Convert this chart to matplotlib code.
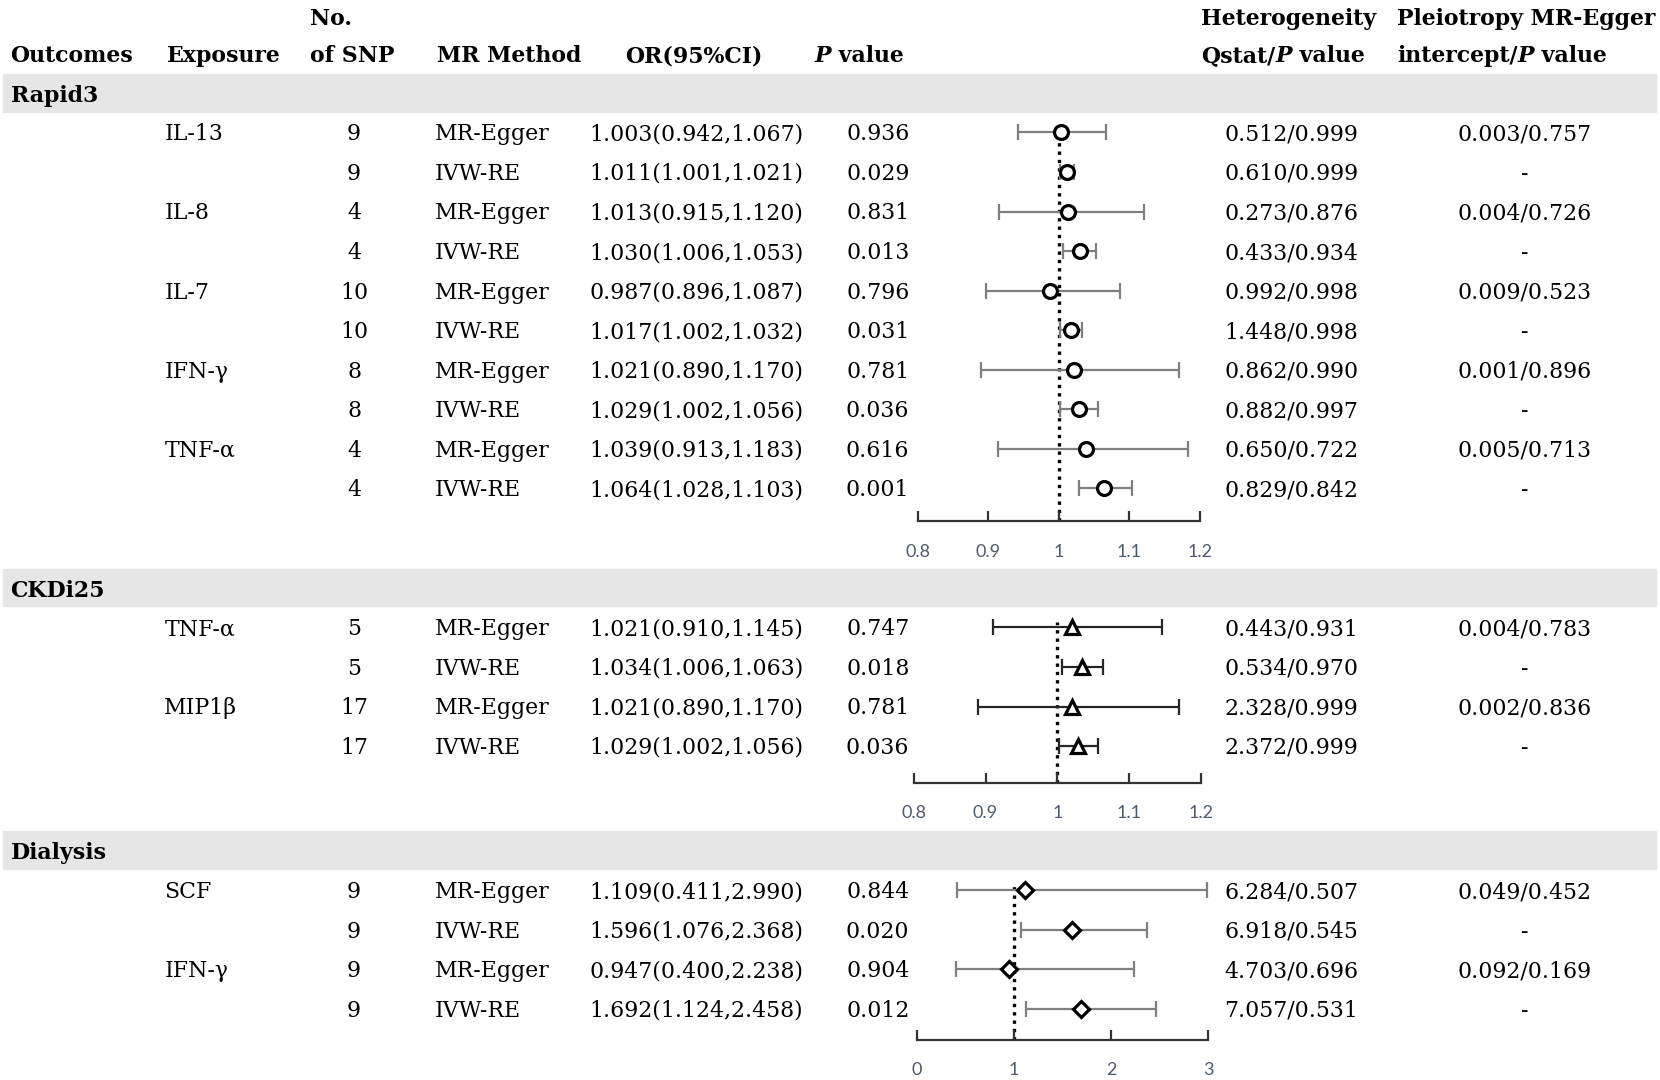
import matplotlib
matplotlib.use("Agg")
import matplotlib.pyplot as plt

plt.rcParams["font.family"] = ["DejaVu Serif"]

# ── Data ────────────────────────────────────────────────────────
rapid_exposure = ["IL-13", "", "IL-8", "", "IL-7", "", "IFN-γ", "", "TNF-α", ""]
rapid_nsnp = [9, 9, 4, 4, 10, 10, 8, 8, 4, 4]
rapid_method = ["MR-Egger", "IVW-RE"] * 5
rapid_or = [1.003, 1.011, 1.013, 1.030, 0.987, 1.017, 1.021, 1.029, 1.039, 1.064]
rapid_lo = [0.942, 1.001, 0.915, 1.006, 0.896, 1.002, 0.890, 1.002, 0.913, 1.028]
rapid_hi = [1.067, 1.021, 1.120, 1.053, 1.087, 1.032, 1.170, 1.056, 1.183, 1.103]
rapid_p = ["0.936", "0.029", "0.831", "0.013", "0.796", "0.031", "0.781", "0.036", "0.616", "0.001"]
rapid_het = ["0.512/0.999", "0.610/0.999", "0.273/0.876", "0.433/0.934", "0.992/0.998",
             "1.448/0.998", "0.862/0.990", "0.882/0.997", "0.650/0.722", "0.829/0.842"]
rapid_pleio = ["0.003/0.757", "-", "0.004/0.726", "-", "0.009/0.523", "-",
               "0.001/0.896", "-", "0.005/0.713", "-"]

ckd_exposure = ["TNF-α", "", "MIP1β", ""]
ckd_nsnp = [5, 5, 17, 17]
ckd_method = ["MR-Egger", "IVW-RE"] * 2
ckd_or = [1.021, 1.034, 1.021, 1.029]
ckd_lo = [0.910, 1.006, 0.890, 1.002]
ckd_hi = [1.145, 1.063, 1.170, 1.056]
ckd_p = ["0.747", "0.018", "0.781", "0.036"]
ckd_het = ["0.443/0.931", "0.534/0.970", "2.328/0.999", "2.372/0.999"]
ckd_pleio = ["0.004/0.783", "-", "0.002/0.836", "-"]

dia_exposure = ["SCF", "", "IFN-γ", ""]
dia_nsnp = [9, 9, 9, 9]
dia_method = ["MR-Egger", "IVW-RE"] * 2
dia_or = [1.109, 1.596, 0.947, 1.692]
dia_lo = [0.411, 1.076, 0.400, 1.124]
dia_hi = [2.990, 2.368, 2.238, 2.458]
dia_p = ["0.844", "0.020", "0.904", "0.012"]
dia_het = ["6.284/0.507", "6.918/0.545", "4.703/0.696", "7.057/0.531"]
dia_pleio = ["0.049/0.452", "-", "0.092/0.169", "-"]

rapid_ticks = [0.8, 0.9, 1.0, 1.1, 1.2]
ckd_ticks = [0.8, 0.9, 1.0, 1.1, 1.2]
dia_ticks = [0, 1, 2, 3]

# ── Layout (drawing grid units) ─────────────────────────────────
W, H = 1566, 1019
STEP = 37.3
FS = 15.8          # body text
HFS = 15.8         # header / group labels
BASE = 7.5         # baseline offset below a row centre
TICK_COLOR = "#4f5b6b"
BAND = "#e6e6e6"

fig = plt.figure(figsize=(16.6, 10.8), dpi=100)
fig.patch.set_facecolor("white")
bg = fig.add_axes([0, 0, 1, 1])
bg.set_xlim(0, W)
bg.set_ylim(H, 0)
bg.axis("off")
renderer = fig.canvas.get_renderer()


def rich(x, y, pieces, **kw):
    """Draw consecutive bold text pieces [(text, style)] left-aligned from x."""
    for txt, style in pieces:
        t = bg.text(x, y + BASE, txt, ha="left", va="baseline", fontsize=HFS,
                    fontweight="bold", fontstyle=style, **kw)
        bb = t.get_window_extent(renderer)
        x = bg.transData.inverted().transform((bb.x1, bb.y0))[0]


def cell(x, y, txt, ha="left"):
    bg.text(x, y + BASE, txt, ha=ha, va="baseline", fontsize=FS)


# ── Header ──────────────────────────────────────────────────────
hy1, hy2 = 16, 51
rich(10, hy2, [("Outcomes", "normal")])
rich(157, hy2, [("Exposure", "normal")])
rich(292, hy1, [("No.", "normal")])
rich(292, hy2, [("of SNP", "normal")])
rich(412, hy2, [("MR Method", "normal")])
rich(590, hy2, [("OR(95%CI)", "normal")])
rich(768, hy2, [("P", "italic"), (" value", "normal")])
rich(1133, hy1, [("Heterogeneity", "normal")])
rich(1133, hy2, [("Qstat/", "normal"), ("P", "italic"), (" value", "normal")])
rich(1318, hy1, [("Pleiotropy MR-Egger", "normal")])
rich(1318, hy2, [("intercept/", "normal"), ("P", "italic"), (" value", "normal")])

groups = [
    dict(name="Rapid3", band=(70, 106), row0=125, axis_y=492, x0=866, x1=1132,
         xlim=(0.8, 1.2), ticks=rapid_ticks, marker="o", bar="#7f7f7f",
         exposure=rapid_exposure, nsnp=rapid_nsnp, method=rapid_method,
         or_=rapid_or, lo=rapid_lo, hi=rapid_hi, p=rapid_p,
         het=rapid_het, pleio=rapid_pleio),
    dict(name="CKDi25", band=(537, 572), row0=592, axis_y=739, x0=862, x1=1133,
         xlim=(0.8, 1.2), ticks=ckd_ticks, marker="^", bar="#262626",
         exposure=ckd_exposure, nsnp=ckd_nsnp, method=ckd_method,
         or_=ckd_or, lo=ckd_lo, hi=ckd_hi, p=ckd_p,
         het=ckd_het, pleio=ckd_pleio),
    dict(name="Dialysis", band=(784, 820), row0=840, axis_y=981, x0=865, x1=1140,
         xlim=(0, 3), ticks=dia_ticks, marker="D", bar="#7f7f7f",
         exposure=dia_exposure, nsnp=dia_nsnp, method=dia_method,
         or_=dia_or, lo=dia_lo, hi=dia_hi, p=dia_p,
         het=dia_het, pleio=dia_pleio),
]

for g in groups:
    b0, b1 = g["band"]
    bg.axhspan(b0, b1, xmin=3 / W, xmax=1562 / W, color=BAND, zorder=0)
    rich(10, (b0 + b1) / 2 + 1, [(g["name"], "normal")])

    n = len(g["or_"])
    for i in range(n):
        y = g["row0"] + STEP * i
        cell(155, y, g["exposure"][i])
        cell(334, y, str(g["nsnp"][i]), ha="center")
        cell(410, y, g["method"][i])
        cell(556, y, f"{g['or_'][i]:.3f}({g['lo'][i]:.3f},{g['hi'][i]:.3f})")
        cell(828, y, g["p"][i], ha="center")
        cell(1218, y, g["het"][i], ha="center")
        cell(1438, y, g["pleio"][i], ha="center")

    # forest panel
    top_row = -0.15
    bottom_row = (g["axis_y"] - g["row0"]) / STEP
    y_top = g["row0"] + STEP * top_row
    ax = fig.add_axes([g["x0"] / W, 1 - g["axis_y"] / H,
                       (g["x1"] - g["x0"]) / W, (g["axis_y"] - y_top) / H])
    ax.patch.set_alpha(0)
    ax.set_xlim(*g["xlim"])
    ax.set_ylim(bottom_row, top_row)
    rows = list(range(n))
    xerr = [[o - l for o, l in zip(g["or_"], g["lo"])],
            [h - o for o, h in zip(g["or_"], g["hi"])]]
    ax.errorbar(g["or_"], rows, xerr=xerr, fmt="none", ecolor=g["bar"],
                elinewidth=1.6, capsize=5.5, capthick=1.6, zorder=2, clip_on=False)
    ax.axvline(1, color="black", linestyle=(0, (1, 1.5)), linewidth=2.4, zorder=1)
    ms = 10 if g["marker"] != "D" else 8.5
    ax.plot(g["or_"], rows, linestyle="none", marker=g["marker"], markersize=ms,
            markerfacecolor="white", markeredgecolor="black", markeredgewidth=2.3,
            zorder=3, clip_on=False)
    for s in ("top", "left", "right"):
        ax.spines[s].set_visible(False)
    ax.spines["bottom"].set_color("#333333")
    ax.spines["bottom"].set_linewidth(1.6)
    ax.set_yticks([])
    ax.set_xticks(g["ticks"])
    ax.set_xticklabels([f"{t:g}" for t in g["ticks"]], family="Lato",
                       fontsize=13, color=TICK_COLOR)
    ax.tick_params(axis="x", direction="in", length=7, width=1.6,
                   color="#333333", pad=16)

plt.savefig("out.png", dpi=100, facecolor="white")
plt.close()
